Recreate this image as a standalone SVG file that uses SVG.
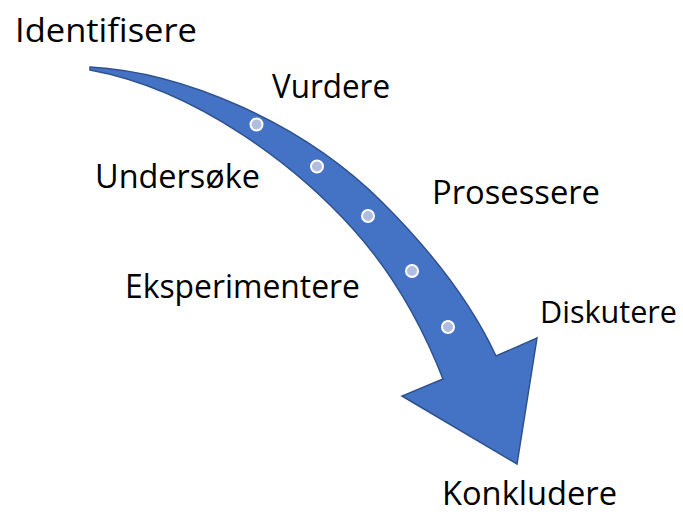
<svg xmlns="http://www.w3.org/2000/svg" width="683" height="514" viewBox="0 0 683 514">
<style>
.lbl{font-family:"Open Sans","Liberation Sans",sans-serif;font-size:33px;fill:#000}
.arrow{fill:#4472c4;stroke:#2f528f;stroke-width:1.5;stroke-linejoin:miter}
.dot{fill:#b0bde0;stroke:#fff;stroke-width:2}
</style>
<g id="arrow">
<path class="arrow" d="M90,67 C180,72 300,120 383,203 C430,250 470,300 496,356 L537,338 L517,464 L402,396 L443,379 C420,320 390,270 353,229 C300,170 200,90 90,70 Z"/>
<circle class="dot" cx="256.5" cy="124.5" r="6"/>
<circle class="dot" cx="317" cy="166.5" r="6"/>
<circle class="dot" cx="368" cy="216" r="6"/>
<circle class="dot" cx="412" cy="271" r="6"/>
<circle class="dot" cx="448" cy="327" r="6"/>
</g>
<g id="connectors"></g>
<g id="n1"><text class="lbl" x="15" y="42" textLength="182" lengthAdjust="spacingAndGlyphs">Identifisere</text></g>
<g id="n2"><text class="lbl" x="272" y="98" textLength="118" lengthAdjust="spacingAndGlyphs">Vurdere</text></g>
<g id="n3"><text class="lbl" x="95" y="188" textLength="165" lengthAdjust="spacingAndGlyphs">Undersøke</text></g>
<g id="n4"><text class="lbl" x="432" y="204" textLength="168" lengthAdjust="spacingAndGlyphs">Prosessere</text></g>
<g id="n5"><text class="lbl" x="125" y="298" textLength="235" lengthAdjust="spacingAndGlyphs">Eksperimentere</text></g>
<g id="n6"><text class="lbl" x="540" y="323" style="font-size:31px" textLength="137" lengthAdjust="spacingAndGlyphs">Diskutere</text></g>
<g id="n7"><text class="lbl" x="442" y="505" textLength="175" lengthAdjust="spacingAndGlyphs">Konkludere</text></g>
</svg>
